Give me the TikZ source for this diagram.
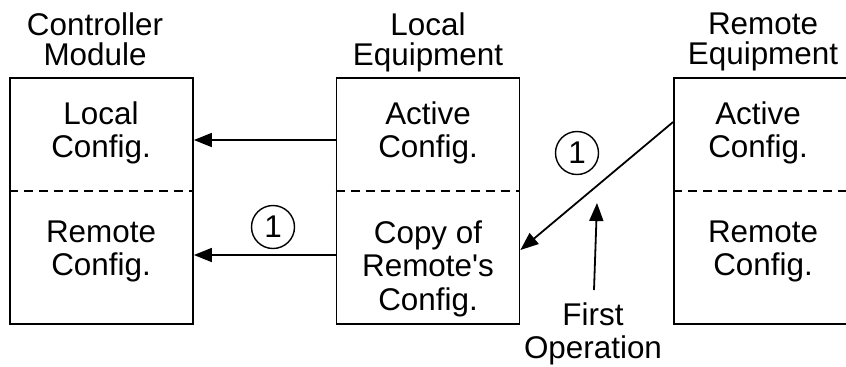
\documentclass[tikz,border=0pt]{standalone}
\usepackage{fontspec}
\setmainfont{Liberation Sans}
\usetikzlibrary{arrows.meta}

\begin{document}
\begin{tikzpicture}[
  x=0.5pt, y=-0.5pt,
  >={Triangle[length=9pt,width=7pt]},
  box/.style={draw, line width=0.9pt, minimum width=91.5pt, minimum height=123pt, inner sep=0pt},
  cell/.style={align=center, anchor=north, inner sep=0pt, font=\fontsize{15.7}{16.8}\selectfont},
  title/.style={align=center, anchor=north, inner sep=0pt, font=\fontsize{15.7}{15}\selectfont},
  badge/.style={draw, circle, line width=0.7pt, minimum size=21.5pt, inner sep=0pt, font=\fontsize{15.7}{15}\selectfont},
  divider/.style={dash pattern=on 4.5pt off 3pt, line width=0.6pt},
  flow/.style={->, line width=0.9pt}
]
\useasboundingbox (0,0) rectangle (846,366);
\node[box] (ctrl) at (101.5,201) {};
\node[box] (loc) at (428,201) {};
\node[box] (rem) at (765.5,201) {};
\draw[divider] ([yshift=5pt]ctrl.west) -- ([yshift=5pt]ctrl.east);
\draw[divider] ([yshift=5pt]loc.west) -- ([yshift=5pt]loc.east);
\draw[divider] ([yshift=5pt]rem.west) -- ([yshift=5pt]rem.east);

\node[title] (ctrlTitle) at (95,12) {Controller\\Module};
\node[title] (locTitle) at (428,12) {Local\\Equipment};
\node[title] (remTitle) at (763,12) {Remote\\Equipment};

\node[cell] (ctrlTop) at (101,101) {Local\\Config.};
\node[cell] (ctrlBot) at (101,220) {Remote\\Config.};
\node[cell] (locTop) at (428,101) {Active\\Config.};
\node[cell] (locBot) at (428,220) {Copy of\\Remote\textquotesingle s\\Config.};
\node[cell] (remTop) at (758,101) {Active\\Config.};
\node[cell] (remBot) at (763,220) {Remote\\Config.};

\draw[flow] ([yshift=30.5pt]loc.west) -- ([yshift=30.5pt]ctrl.east);
\draw[flow] ([yshift=-27pt]loc.west) -- ([yshift=-27pt]ctrl.east);
\draw[flow] ([yshift=39.5pt]rem.west) -- ([yshift=-24.5pt]loc.east);

\node[badge] (bdgLow) at (273,227) {1};
\node[badge] (bdgHigh) at (577,153) {1};

\node[cell] (first) at (593,302) {First\\Operation};
\coordinate (firstTip) at (597,203);
\draw[flow] ([xshift=0.5pt,yshift=6pt]first.north) -- (firstTip);
\end{tikzpicture}
\end{document}
